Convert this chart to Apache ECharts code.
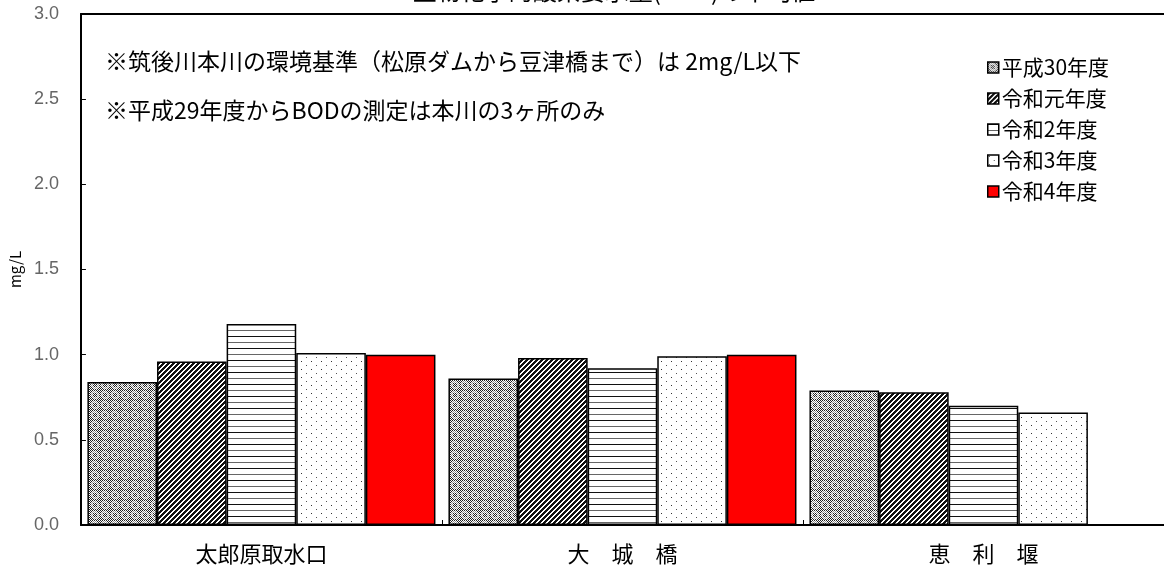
<!DOCTYPE html>
<html>
<head>
<meta charset="utf-8">
<script src="https://cdn.jsdelivr.net/npm/echarts@6/dist/echarts.min.js"></script>
<style>
html,body{margin:0;padding:0;background:#fff;}
#chart{width:1164px;height:567px;}
</style>
</head>
<body>
<div id="chart"></div>
<script>
// ---- data ----
const categories = ['太郎原取水口', '大　城　橋', '恵　利　堰'];
const seriesNames = ['平成30年度', '令和元年度', '令和2年度', '令和3年度', '令和4年度'];
const h30 = [0.84, 0.86, 0.79];
const r1  = [0.96, 0.98, 0.78];
const r2  = [1.18, 0.92, 0.70];
const r3  = [1.01, 0.99, 0.66];
const r4  = [1.00, 1.00, null];
const yTicks = ['0.0','0.5','1.0','1.5','2.0','2.5','3.0'];
const titleText = '生物化学的酸素要求量(BOD)の平均値';
const note1 = '※筑後川本川の環境基準（松原ダムから豆津橋まで）は 2mg/L以下';
const note2 = '※平成29年度からBODの測定は本川の3ヶ所のみ';
const yName = 'mg/L';

// ---- patterns ----
function pat(w, h, draw) {
  const c = document.createElement('canvas');
  c.width = w; c.height = h;
  const g = c.getContext('2d');
  g.fillStyle = '#fff'; g.fillRect(0, 0, w, h);
  draw(g);
  return { image: c, repeat: 'repeat' };
}
const pH30 = pat(10, 10, g => {
  for (let y = 0; y < 10; y++) for (let x = 0; x < 10; x++) {
    const dx = x - 4.5, dy = y - 4.5, r = Math.sqrt(dx*dx + dy*dy);
    if ((x + y) % 2 === 0) { g.fillStyle = (r > 2.5 && r < 4.2) ? '#999' : '#222'; g.fillRect(x, y, 1, 1); }
  }
});
const pR1 = pat(5, 5, g => {
  g.fillStyle = '#111';
  for (let y = 0; y < 5; y++) for (let x = 0; x < 5; x++) if ((x + y) % 5 < 3) g.fillRect(x, y, 1, 1);
});
const pR2 = pat(4, 12, g => {
  g.fillStyle = '#111'; g.fillRect(0, 0, 4, 1);
  g.fillStyle = '#666'; g.fillRect(0, 6, 4, 1);
});
const pR3 = pat(10, 8, g => {
  g.fillStyle = '#333'; g.fillRect(1, 1, 1, 1);
  g.fillStyle = '#555'; g.fillRect(6, 5, 1, 1);
});
const fills = [pH30, pR1, pR2, pR3, '#ff0000'];
const dataSets = [h30, r1, r2, r3, r4];

const FONT = '"Noto Sans CJK JP", "Noto Sans", sans-serif';

const chart = echarts.init(document.getElementById('chart'), null, { renderer: 'canvas' });
chart.setOption({
  animation: false,
  backgroundColor: '#fff',
  grid: { left: 78, right: -2, top: 14, bottom: 42, containLabel: false },
  legend: {
    orient: 'vertical', left: 982, top: 52, icon: 'rect',
    itemWidth: 11, itemHeight: 11, itemGap: 10,
    textStyle: { fontSize: 21, lineHeight: 21, color: '#000', fontFamily: FONT, padding: [0, 0, 0, -2] },
    itemStyle: { borderColor: '#000', borderWidth: 1.5 },
    data: seriesNames
  },
  xAxis: [{
    type: 'category', data: categories,
    axisLine: { lineStyle: { color: '#000', width: 2 } },
    axisTick: { show: true, inside: true, length: 5, lineStyle: { color: '#000' } },
    axisLabel: { fontSize: 22, color: '#000', fontFamily: FONT, margin: 18 }
  }, {
    type: 'category', data: categories, position: 'top',
    axisLine: { show: true, lineStyle: { color: '#000', width: 2 } },
    axisTick: { show: false }, axisLabel: { show: false }
  }],
  yAxis: {
    type: 'value', min: 0, max: 3, interval: 0.5,
    name: yName, nameLocation: 'middle', nameGap: 57,
    nameTextStyle: { fontSize: 15, color: '#000', fontFamily: FONT },
    axisLine: { show: true, lineStyle: { color: '#000', width: 2 } },
    axisTick: { show: true, inside: true, length: 5, lineStyle: { color: '#000' } },
    splitLine: { show: false },
    axisLabel: { fontSize: 18, color: '#666', fontFamily: '"Liberation Sans", sans-serif', margin: 22,
      formatter: v => yTicks[Math.round(v / 0.5)] }
  },
  series: seriesNames.map((n, i) => ({
    name: n, type: 'bar', xAxisIndex: 0,
    data: dataSets[i],
    barGap: '0%', barCategoryGap: '3.6%',
    itemStyle: { color: fills[i], borderColor: '#000', borderWidth: 1.5 }
  })),
  graphic: [
    { type: 'text', left: 105, top: 50, style: { text: note1, font: '23px ' + FONT, fill: '#000' } },
    { type: 'text', left: 105, top: 99, style: { text: note2, font: '23px ' + FONT, fill: '#000' } },
    { type: 'text', x: 614, y: 3, style: { text: titleText, font: '24px ' + FONT, fill: '#000', align: 'center', verticalAlign: 'bottom' } }
  ]
});
</script>
</body>
</html>
